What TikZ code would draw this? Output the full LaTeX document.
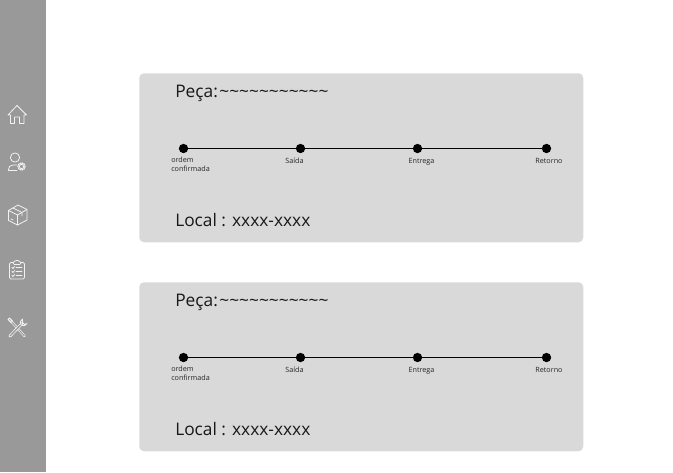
\documentclass[tikz,border=0pt]{standalone}
\usepackage{fontspec}
\setmainfont{Open Sans}
\definecolor{sidegray}{HTML}{999999}
\definecolor{cardgray}{HTML}{D9D9D9}
\definecolor{icongray}{HTML}{F2F2F2}
\tikzset{
  card/.style={rectangle, fill=cardgray, rounded corners=3.5pt, minimum width=333pt,
               minimum height=126.75pt, inner sep=0pt},
  stopdot/.style={circle, fill=black, minimum size=7pt, inner sep=0pt},
  stopline/.style={line width=1.3pt, black},
  stoplabel/.style={font=\fontsize{5.4}{6.8}\selectfont, text=black!85, inner sep=0pt, align=left},
  bigtext/.style={font=\fontsize{13}{15}\selectfont, text=black!90, inner sep=0pt, anchor=base west},
  iconline/.style={draw=icongray, line width=0.6pt, line join=round, line cap=round},
}
\begin{document}
\begin{tikzpicture}[x=0.75pt, y=-0.75pt]
  \useasboundingbox (0,0) rectangle (673,472);
  % side bar
  \fill[sidegray] (0,0) rectangle (46,472);

  % home
  \draw[iconline] (8,115) -- (17,105.5) -- (26.5,115) -- (24,115) -- (24,123.5) -- (19.5,123.5)
    -- (19.5,117) -- (14.5,117) -- (14.5,123.5) -- (10.5,123.5) -- (10.5,115) -- cycle;
  % user with gear
  \draw[iconline] (15,157.5) circle (4.6);
  \draw[iconline] (17,165) -- (13,165) .. controls (10,165) and (8.5,167) .. (8.5,169.5)
    -- (8.5,170.5) -- (17,170.5);
  \draw[iconline, densely dotted, line width=1pt] (21.5,166.5) circle (3.6);
  \draw[iconline] (21.5,166.5) circle (2.2);
  % box
  \draw[iconline] (8.5,210.5) -- (18,205) -- (27,209.5) -- (27,220) -- (17.5,225) -- (8.5,220.5) -- cycle;
  \draw[iconline] (8.5,210.5) -- (17.5,215) -- (27,209.5);
  \draw[iconline] (17.5,215) -- (17.5,225);
  \draw[iconline] (13,208) -- (22,212.5) -- (22,216);
  \draw[iconline] (11,219) -- (13,220);
  % clipboard
  \draw[iconline, rounded corners=1pt] (13,262.5) -- (9.5,262.5) -- (9.5,279) -- (24.5,279) -- (24.5,262.5) -- (21,262.5);
  \draw[iconline, rounded corners=1pt] (13,264.5) -- (13,261.5) -- (15.5,261.5) -- (17,259.5) -- (18.5,261.5) -- (21,261.5) -- (21,264.5) -- cycle;
  \foreach \liney in {267.5,271.5,275.5}{
    \draw[iconline] (12,\liney) -- (13,\liney+1) -- (14.5,\liney-1);
    \draw[iconline] (16,\liney) -- (22,\liney);
  }
  % tools
  \draw[iconline, line width=1.7pt] (10.5,320.5) -- (24.5,336);
  \draw[sidegray, line width=0.7pt] (10.5,320.5) -- (24.5,336);
  \draw[iconline, line width=2.2pt] (10,336) -- (22,323.5);
  \draw[sidegray, line width=1pt] (10,336) -- (22,323.5);
  \draw[iconline] (22.5,319) .. controls (20,320) and (19.5,323) .. (21,325)
    .. controls (23,326.5) and (26,326) .. (27,323.5) -- (24.5,324.5) -- (22.5,322.5) -- cycle;
  \draw[iconline] (8,319.5) -- (9.5,318) -- (12.5,321) -- (11,322.5) -- cycle;

  % one card per order
  \foreach \cardname/\cardy in {a/73, b/282}{
    \node[card, anchor=north west] (card\cardname) at (139,\cardy) {};
    \node[bigtext] (part\cardname) at (175,\cardy+24.5) {Peça:~\kern-0.25em\kern1pt\char`\~\char`\~\char`\~\char`\~\char`\~\char`\~\char`\~\char`\~\char`\~\char`\~\char`\~};
    \node[bigtext] (place\cardname) at (175,\cardy+153) {Local : xxxx-xxxx};

    \node[stopdot] (order\cardname) at (183.5,\cardy+75.5) {};
    \node[stopdot] (exit\cardname) at (300.5,\cardy+75.5) {};
    \node[stopdot] (deliver\cardname) at (417.5,\cardy+75.5) {};
    \node[stopdot] (back\cardname) at (546.5,\cardy+75.5) {};
    \draw[stopline] (order\cardname) -- (exit\cardname);
    \draw[stopline] (exit\cardname) -- (deliver\cardname);
    \draw[stopline] (deliver\cardname) -- (back\cardname);

    \node[stoplabel, anchor=base west] (orderlabel\cardname) at (171,\cardy+98.5) {ordem\\confirmada};
    \node[stoplabel, anchor=base] (exitlabel\cardname) at (294.5,\cardy+90) {Saída};
    \node[stoplabel, anchor=base] (deliverlabel\cardname) at (421.5,\cardy+90) {Entrega};
    \node[stoplabel, anchor=base] (backlabel\cardname) at (549,\cardy+90) {Retorno};
  }
\end{tikzpicture}
\end{document}
